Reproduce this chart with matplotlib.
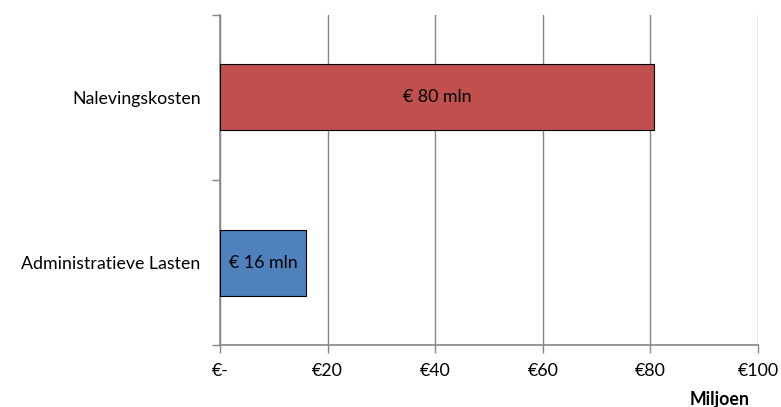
import matplotlib.pyplot as plt
import matplotlib.ticker as mticker

categories = ["Administratieve Lasten", "Nalevingskosten"]
values = [16.0, 80.6]
bar_labels = ["€ 16 mln", "€ 80 mln"]
colors = ["#4F81BD", "#C0504D"]
xticks = [0, 20, 40, 60, 80, 100]
xtick_labels = ["€-", "€20", "€40", "€60", "€80", "€100"]

plt.rcParams["font.family"] = ["Lato", "DejaVu Sans"]
fs = 12.8

fig = plt.figure(figsize=(7.81, 4.07), dpi=100)
ax = fig.add_axes([220 / 781, 62 / 407, 538 / 781, 330 / 407])

ypos = list(range(len(categories)))
ax.barh(ypos, values, height=0.4, color=colors, edgecolor="black", linewidth=0.8, zorder=3)
for y, v, lab in zip(ypos, values, bar_labels):
    ax.text(v / 2, y, lab, ha="center", va="center", fontsize=fs, color="black", zorder=4)

ax.set_xlim(0, 100)
ax.set_ylim(-0.5, 1.5)
ax.set_xticks(xticks)
ax.set_xticklabels(xtick_labels, fontsize=fs)
ax.set_yticks(ypos)
ax.set_yticklabels(categories, fontsize=fs)
ax.yaxis.set_minor_locator(mticker.FixedLocator([-0.5, 0.5, 1.5]))
ax.tick_params(axis="y", which="major", length=0, pad=14)
ax.tick_params(axis="y", which="minor", length=6, color="#868686", width=1)
ax.tick_params(axis="x", length=6, color="#868686", width=1, pad=7)

ax.grid(axis="x", color="#868686", linewidth=1, zorder=0)
for side in ["top", "right"]:
    ax.spines[side].set_visible(False)
ax.spines["left"].set_color("#868686")
ax.spines["bottom"].set_color("#868686")
ax.spines["left"].set_linewidth(1.2)
ax.spines["bottom"].set_linewidth(1.2)

fig.text(720 / 781, 1 - 399 / 407, "Miljoen", ha="center", va="center", fontsize=fs, fontweight="bold")

fig.savefig("out.png", dpi=100)
